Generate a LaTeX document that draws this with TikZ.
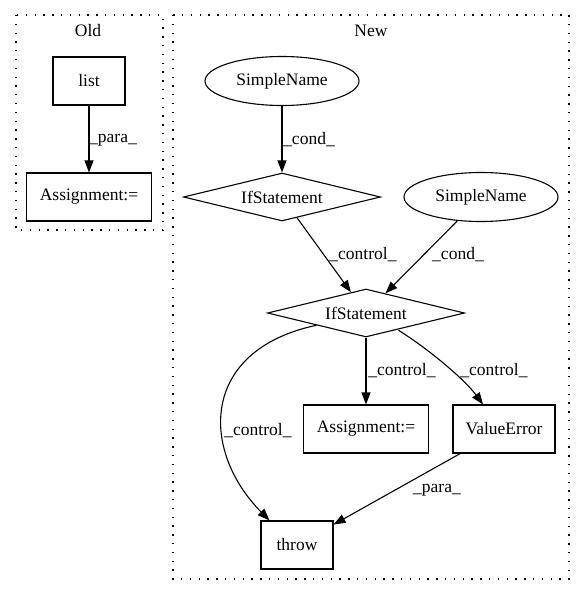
\documentclass[tikz,border=0pt]{standalone}
\usepackage{fontspec}
\setmainfont{Liberation Serif}
\usetikzlibrary{arrows.meta,shapes.geometric}

\begin{document}
\begin{tikzpicture}[x=1bp, y=-1bp, line width=1.1bp,
    every node/.style={font=\fontsize{17.5bp}{20bp}\selectfont},
    box/.style={draw, rectangle, inner sep=0pt, minimum height=48bp},
    cond/.style={draw, diamond, aspect=4.5, inner sep=0pt, minimum width=197bp, minimum height=48bp},
    simple/.style={draw, ellipse, inner sep=0pt, minimum width=154bp, minimum height=49bp},
    lbl/.style={inner sep=0pt},
    flow/.style={-{Triangle[length=12bp,width=9bp]}},
    cluster/.style={draw, line width=1.3bp, dash pattern=on 1.3bp off 7.5bp}]
    \useasboundingbox (0,0) rectangle (585,596);

    % Draw the two clusters
    \draw[cluster] (16,15) rectangle (163,230);
    \draw[cluster] (173,15) rectangle (569,579);
    \node[lbl] (oldtitle) at (88,31) {Old};
    \node[lbl] (newtitle) at (371,31) {New};

    % Old nodes
    \node[box, minimum width=72bp] (list) at (89,81) {list};
    \node[box, minimum width=125bp] (asgold) at (89,197) {Assignment:=};

    % New nodes
    \node[simple] (sname1) at (282,81) {SimpleName};
    \node[cond] (if1) at (282,197) {IfStatement};
    \node[simple] (sname2) at (481,197) {SimpleName};
    \node[cond] (if2) at (366,313) {IfStatement};
    \node[box, minimum width=125bp] (asgnew) at (366,429) {Assignment:=};
    \node[box, minimum width=102bp] (valerr) at (504,429) {ValueError};
    \node[box, minimum width=72bp] (throw) at (297,545) {throw};

    % Draw the edges
    \draw[flow] (list) -- (asgold);
    \draw[flow] (sname1) -- (if1);
    \draw[flow] (if1) -- (if2);
    \draw[flow] (sname2) -- (if2);
    \draw[flow] (if2) -- (asgnew);
    \draw[flow] (if2.south east) ++(-17,5) .. controls (430,350) and (465,380) .. (valerr.north west -| 483,0);
    \draw[flow] (if2.south west) .. controls (200,350) and (200,450) .. ([xshift=9bp]throw.north west);
    \draw[flow] (valerr) -- (throw);

    % Add edge labels
    \node[lbl] (lpara1) at (113,140) {\_para\_};
    \node[lbl] (lcond1) at (309,140) {\_cond\_};
    \node[lbl] (lctrl1) at (363,255) {\_control\_};
    \node[lbl] (lcond2) at (458,255) {\_cond\_};
    \node[lbl] (lctrl2) at (402,371) {\_control\_};
    \node[lbl] (lctrl3) at (494,371) {\_control\_};
    \node[lbl] (lctrl4) at (258,431) {\_control\_};
    \node[lbl] (lpara2) at (437,490) {\_para\_};
\end{tikzpicture}
\end{document}
